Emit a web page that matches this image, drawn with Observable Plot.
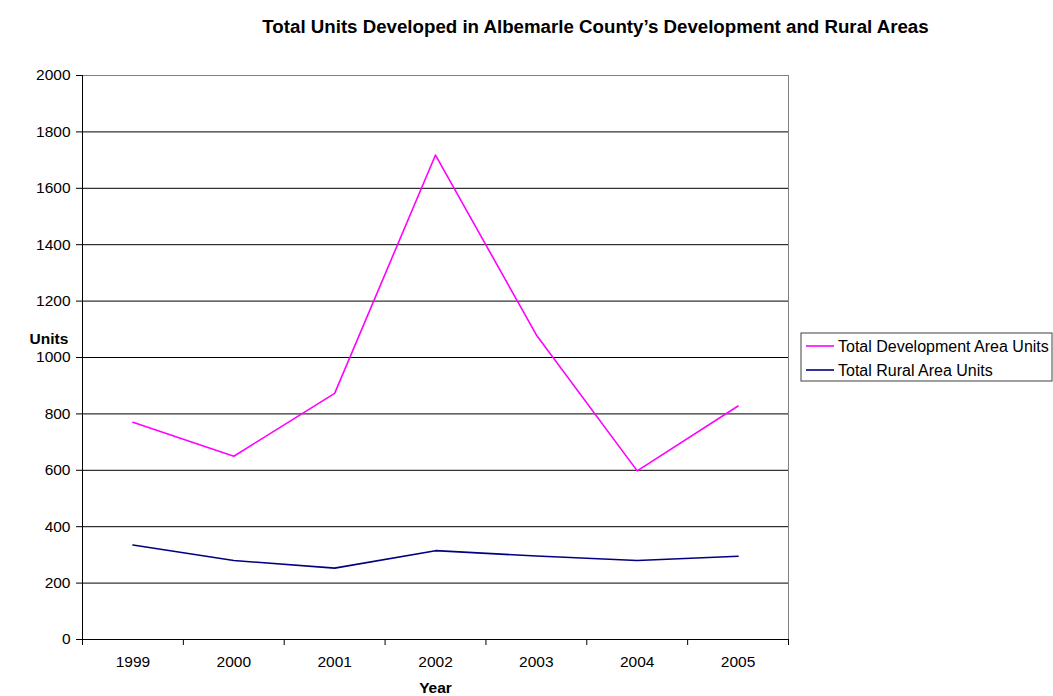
<!DOCTYPE html>
<html><head>
<meta charset="utf-8">
<script src="https://cdn.jsdelivr.net/npm/d3@7"></script>
<script src="https://cdn.jsdelivr.net/npm/@observablehq/plot@0.6"></script>
<style>
body{margin:0;background:#fff}
svg{font-family:"Liberation Sans",Arial,sans-serif}
</style>
</head><body><div id="chart"></div>
<script>
const years = [1999, 2000, 2001, 2002, 2003, 2004, 2005];
const devUnits = [770, 650, 873, 1718, 1080, 598, 828];
const ruralUnits = [335, 280, 253, 315, 296, 280, 295];
const yTicks = [0, 200, 400, 600, 800, 1000, 1200, 1400, 1600, 1800, 2000];
const seriesNames = ["Total Development Area Units", "Total Rural Area Units"];
const seriesColors = ["#ff00ff", "#000080"];
const titleText = "Total Units Developed in Albemarle County\u2019s Development and Rural Areas";
const xLabel = "Year";
const yLabel = "Units";

const rows = years.flatMap((yr, i) => [
  {year: yr, units: devUnits[i], series: seriesNames[0]},
  {year: yr, units: ruralUnits[i], series: seriesNames[1]}
]);
const boundaries = years.map(y => y - 0.5).concat([years[years.length - 1] + 0.5]);

const chart = Plot.plot({
  width: 1053, height: 696,
  marginLeft: 82, marginRight: 265, marginTop: 75, marginBottom: 57,
  style: {fontFamily: '"Liberation Sans", Arial, sans-serif', fontSize: "15.5px", color: "#000", background: "#fff"},
  x: {domain: [boundaries[0], boundaries[boundaries.length - 1]]},
  y: {domain: [0, 2000]},
  color: {domain: seriesNames, range: seriesColors},
  marks: [
    Plot.gridY(yTicks.slice(1, -1), {stroke: "#000", strokeOpacity: 1}),
    Plot.frame({stroke: "#808080"}),
    Plot.ruleX([boundaries[0]], {stroke: "#000"}),
    Plot.ruleY([0], {stroke: "#000"}),
    Plot.axisY(yTicks, {tickSize: 6, tickPadding: 6, label: null, tickFormat: d => String(d)}),
    Plot.axisX(boundaries, {tickSize: 6, tickFormat: () => "", label: null}),
    Plot.axisX(years, {tickSize: 0, tickPadding: 16, tickFormat: d => String(d), label: null}),
    Plot.line(rows, {x: "year", y: "units", z: "series", stroke: "series", strokeWidth: 1.6}),
    Plot.text([titleText], {text: d => d, frameAnchor: "top", dx: 160, dy: -56, fontWeight: "bold", fontSize: 18.7}),
    Plot.text([yLabel], {text: d => d, frameAnchor: "left", dx: -53, dy: -18, fontWeight: "bold", fontSize: 15.5}),
    Plot.text([xLabel], {text: d => d, frameAnchor: "bottom", dy: 53, fontWeight: "bold", fontSize: 15.5})
  ]
});
document.getElementById("chart").appendChild(chart);

// Legend
const svg = d3.select(chart);
const lg = svg.append("g").attr("transform", "translate(801,333)");
lg.append("rect").attr("width", 251).attr("height", 48).attr("fill", "#fff").attr("stroke", "#404040");
seriesNames.forEach((name, i) => {
  const y = 13 + i * 24;
  lg.append("line").attr("x1", 5).attr("x2", 33).attr("y1", y).attr("y2", y)
    .attr("stroke", seriesColors[i]).attr("stroke-width", 1.6);
  lg.append("text").attr("x", 37).attr("y", y).attr("dy", "0.35em")
    .attr("text-anchor", "start").attr("font-size", 16).attr("fill", "#000").text(name);
});
</script>
</body></html>
